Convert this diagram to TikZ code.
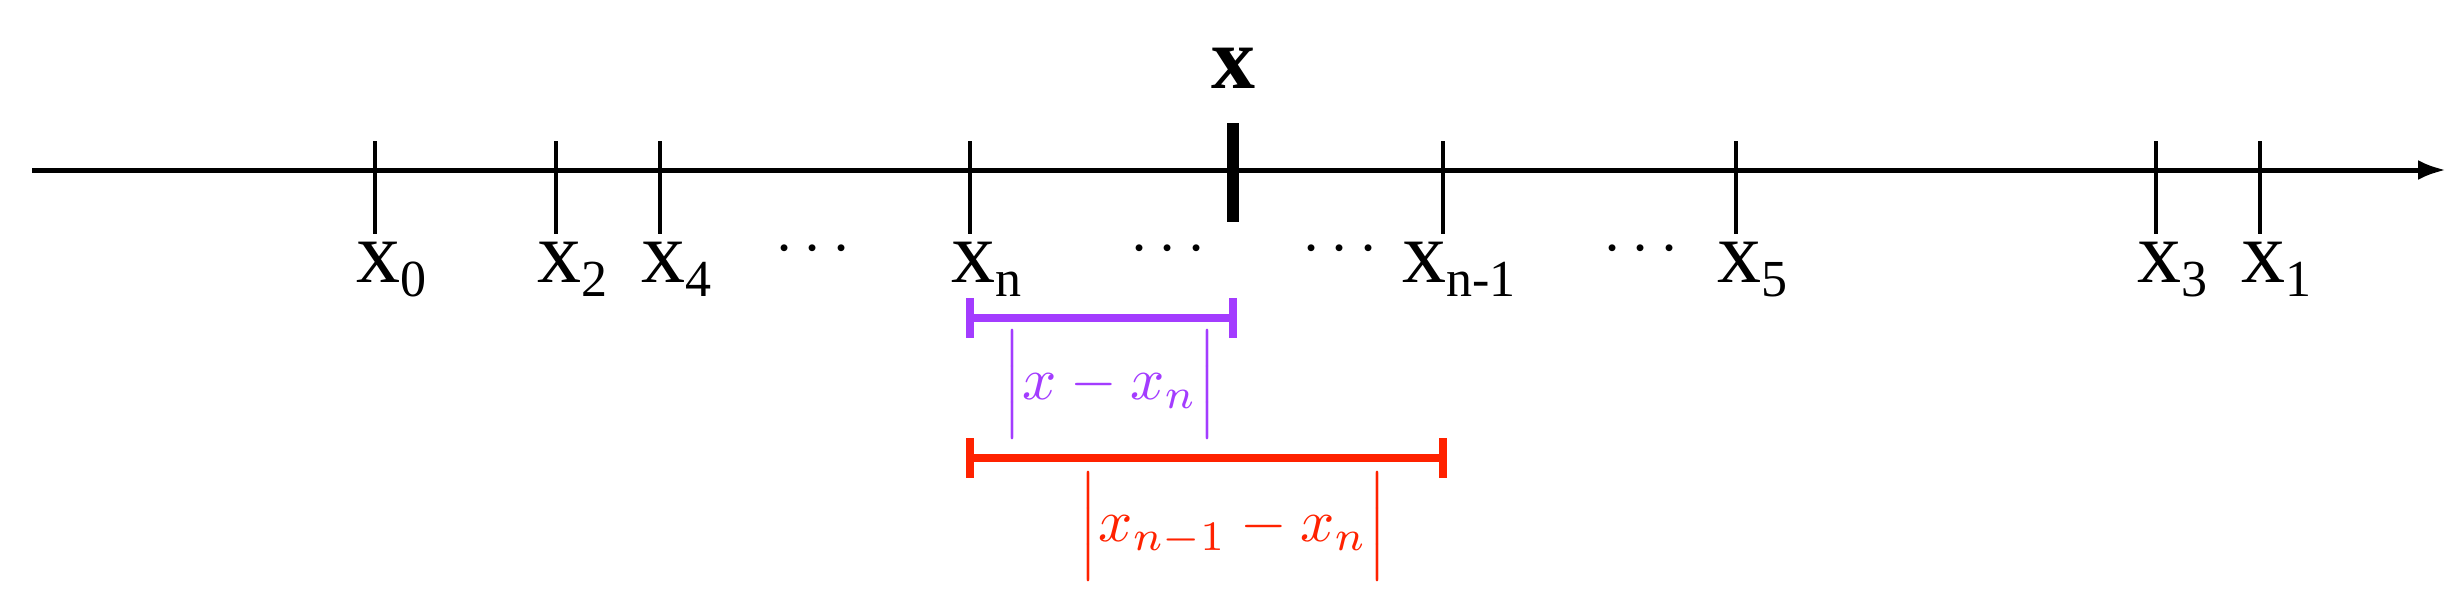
\documentclass[tikz,border=0pt]{standalone}
\usepackage{fontspec}
\setmainfont{Liberation Serif}
\usetikzlibrary{arrows.meta}
\definecolor{vio}{RGB}{163,60,255}
\definecolor{rd}{RGB}{255,34,0}
\newcommand{\lab}[1]{\fontsize{88}{88}\selectfont x{\fontsize{52}{52}\selectfont\raisebox{-14pt}{#1}}}
\tikzset{tk/.style={line width=3.5pt}, lbl/.style={inner sep=0pt, anchor=north}, dts/.style={inner sep=0pt}}
\begin{document}
\begin{tikzpicture}[x=1pt,y=-1pt]
\useasboundingbox (0,0) rectangle (2462,597);
\coordinate (a0) at (32,170); \coordinate (a1) at (2446,170);
\draw[line width=5pt,-{Latex[length=28pt,width=20pt]}] (a0) -- (a1);
\foreach \n/\x/\s in {x0/375/0,x2/556/2,x4/660/4,xn/970/n,xm/1443/n-1,x5/1736/5,x3/2156/3,x1/2260/1}{
  \draw[tk] (\x,141) -- (\x,234);
  \node[lbl] (\n) at (\x+16,242) {\lab{\s}};
}
\draw[line width=12pt] (1233,123) -- (1233,222);
\node[inner sep=0pt, font=\bfseries\fontsize{88}{88}\selectfont] (X) at (1233,68) {x};
\foreach \x/\m in {813/d1,1168/d2,1340/d3,1641/d4}{\node[dts] (\m) at (\x,250) {\scalebox{6.5}{$\cdots$}};}
\draw[vio,line width=8pt] (970,318) -- (1233,318);
\draw[vio,line width=8pt] (970,298) -- (970,338) (1233,298) -- (1233,338);
\node[vio,inner sep=0pt] (l1) at (1110,384) {\scalebox{6}{$\Bigl|x-x_n\Bigr|$}};
\draw[rd,line width=8pt] (970,458) -- (1443,458);
\draw[rd,line width=8pt] (970,438) -- (970,478) (1443,438) -- (1443,478);
\node[rd,inner sep=0pt] (l2) at (1233,526) {\scalebox{6}{$\Bigl|x_{n-1}-x_n\Bigr|$}};
\end{tikzpicture}
\end{document}
